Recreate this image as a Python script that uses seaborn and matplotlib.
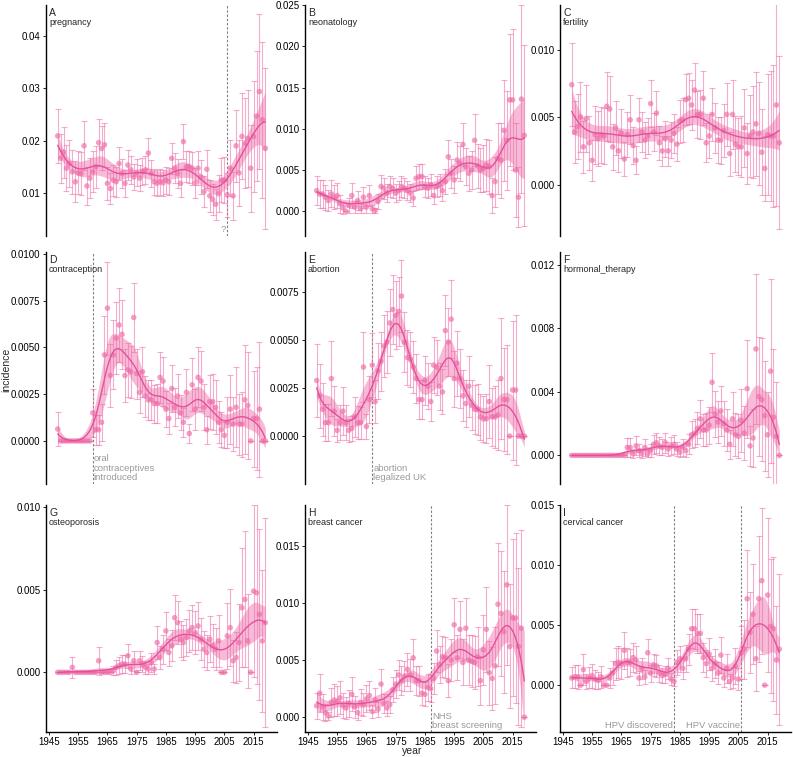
import numpy as np
import matplotlib
matplotlib.use("Agg")
import matplotlib.pyplot as plt
import matplotlib.transforms as mtransforms
import seaborn as sns

years = list(range(1948, 2020))

# number of screened articles per year (drives the 95% binomial error bars)
n_articles = [3000, 2900,
              2800, 2900, 2900, 3000, 3000, 3100, 3100, 3200, 3300, 3300,
              3400, 3500, 3700, 3900, 4100, 4400, 4800, 5200, 5600, 6000,
              6400, 6800, 7100, 7400, 7600, 7700, 7800, 7800, 7700, 7600,
              7500, 7400, 7300, 7200, 7100, 7000, 7000, 6900, 6800, 6700,
              6600, 6400, 6200, 6000, 5700, 5400, 5100, 4800, 4500, 4200,
              3900, 3600, 3300, 3000, 2700, 2400, 2100, 1900, 1700, 1500,
              1300, 1150, 1000, 900, 800, 700, 600, 500, 400, 290]

pregnancy = [.0209, .0166,
             .0178, .0147, .0156, .0140, .0121, .0138, .0137, .0190, .0113, .0128,
             .0140, .0150, .0196, .0185, .0192, .0118, .0108, .0124, .0121, .0156,
             .0137, .0118, .0153, .0144, .0130, .0138, .0128, .0140, .0144, .0176,
             .0137, .0121, .0118, .0121, .0119, .0124, .0121, .0166, .0147, .0137,
             .0118, .0198, .0150, .0150, .0147, .0119, .0147, .0130, .0102, .0145,
             .0094, .0087, .0078, .0098, .0124, .0124, .0096, .0147, .0094, .0190,
             .0138, .0208, .0195, .0204, .0147, .0208, .0247, .0294, .0240, .0185]

neonatology = [.0025, .0021,
               .0021, .0017, .0013, .0021, .0017, .0019, .0009, .0004, .0000, .0007,
               .0019, .0005, .0013, .0003, .0017, .0005, .0019, .0003, .0001, .0012,
               .0030, .0028, .0022, .0030, .0028, .0022, .0025, .0030, .0028, .0025,
               .0022, .0016, .0040, .0042, .0042, .0030, .0028, .0032, .0019, .0030,
               .0032, .0025, .0036, .0066, .0046, .0038, .0062, .0058, .0081, .0054,
               .0046, .0050, .0086, .0055, .0050, .0052, .0056, .0054, .0019, .0036,
               .0064, .0062, .0098, .0086, .0135, .0135, .0050, .0017, .0136, .0092]

fertility = [.0074, .0039,
             .0043, .0050, .0028, .0049, .0031, .0018, .0037, .0034, .0037, .0036,
             .0058, .0056, .0028, .0042, .0025, .0038, .0019, .0037, .0048, .0029,
             .0018, .0048, .0039, .0033, .0036, .0060, .0039, .0053, .0031, .0025,
             .0034, .0025, .0033, .0038, .0030, .0047, .0048, .0063, .0064, .0059,
             .0070, .0052, .0052, .0064, .0031, .0036, .0052, .0042, .0033, .0033,
             .0040, .0052, .0023, .0052, .0030, .0028, .0028, .0042, .0023, .0036,
             .0039, .0045, .0038, .0024, .0012, .0037, .0036, .0036, .0059, .0031]

contraception = [.00064, 0,
                 0, 0, 0, 0, 0, 0, 0, 0, 0, 0,
                 .0015, .0006, .0006, .0010, .0046, .0071, .0035, .0046, .0055, .0062,
                 .0057, .0035, .0038, .0037, .0066, .0036, .0026, .0037, .0024, .0022,
                 .0022, .0020, .0020, .0034, .0032, .0017, .0012, .0028, .0018, .0024,
                 .0015, .0010, .0026, .0004, .0030, .0017, .0034, .0032, .0018, .0006,
                 .0021, .0021, .0018, .0010, .0006, .0003, .0010, .0017, .0009, .0018,
                 .0009, .0009, .0022, .0019, 0, .0012, .0012, .0017, 0, 0]

abortion = [.0029, .0021,
            .0014, .0007, .0007, .0030, .0013, .0003, .0007, .0013, .0007, .0003,
            .0004, .0010, .0007, .0007, .0036, .0005, .0019, .0037, .0018, .0034,
            .0039, .0047, .0049, .0059, .0066, .0063, .0065, .0073, .0049, .0041,
            .0040, .0036, .0030, .0019, .0019, .0029, .0026, .0018, .0037, .0036,
            .0026, .0023, .0055, .0049, .0061, .0030, .0038, .0030, .0021, .0017,
            .0026, .0016, .0014, .0014, .0010, .0009, .0009, .0018, .0010, .0010,
            .0011, .0030, .0019, .0019, 0, .0024, .0024, 0, 0, 0]

hormonal_therapy = [0, 0,
                    0, 0, 0, 0, 0, 0, 0, 0, 0, 0,
                    0, 0, 0, 0, 0, 0, 0, .0005, .0005, .0001,
                    .0006, .0003, .0001, .0005, .0001, .0003, .0007, .0008, .0006, .0005,
                    .0008, .0004, .0006, .0007, .0004, .0002, .0005, .0003, .0007, .0013,
                    .0014, .0017, .0023, .0016, .0016, .0019, .0046, .0026, .0021, .0028,
                    .0020, .0016, .0007, .0023, .0013, .0012, .0022, .0014, .0042, .0006,
                    .0011, .0067, .0037, .0035, .0025, .0013, .0053, .0024, .0012, 0]

osteoporosis = [0, 0,
                0, 0, 0, .0003, 0, 0, 0, 0, 0, 0,
                0, 0, .0007, 0, 0, 0, 0, .0001, .0003, .0004,
                .0005, .0005, .0010, .0002, .0007, 0, .0007, .0005, .0003, .0002,
                .0006, .0002, .0018, .0009, .0014, .0025, .0012, .0016, .0033, .0030,
                .0020, .0018, .0021, .0025, .0027, .0024, .0028, .0020, .0014, .0012,
                .0020, .0016, .0014, .0019, 0, 0, .0022, .0027, .0007, .0009,
                .0018, .0039, .0044, .0019, 0, .0049, .0048, .0035, .0019, .0030]

breast_cancer = [.0010, .0021,
                 .0009, .0004, .0001, .0013, .0015, .0014, .0017, .0010, .0008, .0012,
                 .0020, .0009, .0004, .0013, .0011, .0016, .0019, .0005, .0015, .0007,
                 .0029, .0012, .0008, .0011, .0024, .0029, .0037, .0032, .0036, .0042,
                 .0037, .0052, .0032, .0032, .0021, .0020, .0026, .0025, .0034, .0058,
                 .0046, .0053, .0052, .0032, .0050, .0081, .0052, .0077, .0048, .0078,
                 .0050, .0049, .0048, .0053, .0032, .0059, .0077, .0039, .0034, .0045,
                 .0099, .0091, .0075, .0116, .0062, .0087, .0087, .0062, .0078, .0000]

cervical_cancer = [.0006, .0007,
                   .0007, 0, .0013, .0003, .0006, .0008, .0005, .0004, .0007, 0,
                   0, .0006, .0010, .0018, .0019, .0018, .0029, .0019, .0019, .0023,
                   .0021, .0006, .0014, .0007, .0027, .0010, .0017, .0016, .0010, .0008,
                   .0009, .0014, .0005, .0003, .0019, .0022, .0014, .0022, .0030, .0047,
                   .0047, .0043, .0043, .0023, .0018, .0026, .0014, .0018, .0010, .0025,
                   .0006, .0014, .0003, .0006, .0016, .0005, .0027, .0030, .0072, .0044,
                   .0059, .0022, .0072, .0087, 0, .0075, .0049, .0047, .0021, .0030]

# letter, title, values, y ticks, tick format, y limits, smoothing bandwidth, events
panels = [
    ("A", "pregnancy", pregnancy, [0.01, 0.02, 0.03, 0.04], "{:.2f}", (0.0017, 0.046), 3.5,
     [(2006, "?", "right")]),
    ("B", "neonatology", neonatology, [0, 0.005, 0.01, 0.015, 0.02, 0.025], "{:.3f}",
     (-0.003, 0.025), 3.0, []),
    ("C", "fertility", fertility, [0, 0.005, 0.01], "{:.3f}", (-0.0038, 0.0133), 4.8, []),
    ("D", "contraception", contraception, [0, 0.0025, 0.005, 0.0075, 0.01], "{:.4f}",
     (-0.0023, 0.0101), 2.5, [(1960, "oral\ncontraceptives\nintroduced", "left")]),
    ("E", "abortion", abortion, [0, 0.0025, 0.005, 0.0075], "{:.4f}", (-0.0025, 0.0096), 2.5,
     [(1967, "abortion\nlegalized UK", "left")]),
    ("F", "hormonal_therapy", hormonal_therapy, [0, 0.004, 0.008, 0.012], "{:.3f}",
     (-0.0018, 0.0128), 2.8, []),
    ("G", "osteoporosis", osteoporosis, [0, 0.005, 0.01], "{:.3f}", (-0.0036, 0.0101), 3.2, []),
    ("H", "breast cancer", breast_cancer, [0, 0.005, 0.01, 0.015], "{:.3f}", (-0.0013, 0.0186), 2.8,
     [(1987, "NHS\nbreast screening", "left")]),
    ("I", "cervical cancer", cervical_cancer, [0, 0.005, 0.01, 0.015], "{:.3f}",
     (-0.0039, 0.0149), 2.6, [(1983, "HPV discovered", "right"), (2006, "HPV vaccine", "right")]),
]


def local_linear(x, y, grid, bw):
    x = np.asarray(x, float)
    y = np.asarray(y, float)

    def smoother(points):
        rows = []
        for g in points:
            d = x - g
            w = np.exp(-0.5 * (d / bw) ** 2)
            s0, s1, s2 = w.sum(), (w * d).sum(), (w * d * d).sum()
            rows.append(w * (s2 - d * s1) / (s0 * s2 - s1 ** 2))
        return np.array(rows)

    S = smoother(x)
    resid = y - S @ y
    n = len(x)
    df = np.trace(S)
    L = smoother(grid)
    fit = L @ y
    se = np.sqrt((L ** 2) @ (resid ** 2) * n / (n - df))
    return fit, fit - 1.96 * se, fit + 1.96 * se


sns.set_theme(style="ticks")
plt.rcParams["font.family"] = ["Liberation Sans", "DejaVu Sans"]

pink = "#EE6AA7"
line_pink = "#E4509A"
grey_line = "#808080"
grey_text = "#9A9A9A"

W, H = 793, 757
fig = plt.figure(figsize=(W / 100, H / 100), dpi=100)
col_left = [46, 305, 560]
col_w = 231
row_top = [5, 252, 505]
row_bot = [236, 484, 732]

yrs = np.array(years, float)
n_arr = np.array(n_articles, float)
grid = np.linspace(1948, 2019, 300)

for i, (letter, title, vals, ticks, fmt, ylim, bw, events) in enumerate(panels):
    r, c = divmod(i, 3)
    ax = fig.add_axes([col_left[c] / W, 1 - row_bot[r] / H, col_w / W,
                       (row_bot[r] - row_top[r]) / H])
    p = np.array(vals, float)
    err = 1.96 * np.sqrt(p * (1 - p) / n_arr)

    ax.errorbar(yrs, p, yerr=err, fmt="none", ecolor=pink, elinewidth=0.8,
                capsize=2.3, capthick=0.8, alpha=0.55, zorder=2)
    sns.scatterplot(x=yrs, y=p, ax=ax, color=pink, s=16, alpha=0.65,
                    edgecolor="none", legend=False, zorder=3)
    fit, lo, hi = local_linear(yrs, p, grid, bw)
    ax.fill_between(grid, lo, hi, color=pink, alpha=0.45, lw=0, zorder=4)
    sns.lineplot(x=grid, y=fit, ax=ax, color=line_pink, lw=1.0,
                 errorbar=None, zorder=5)

    blend = mtransforms.blended_transform_factory(ax.transData, ax.transAxes)
    for yr, label, side in events:
        ax.axvline(yr, color=grey_line, ls=(0, (2.2, 1.6)), lw=0.8, zorder=1)
        dx = 0.35 if side == "left" else -0.35
        ax.text(yr + dx, 0.008, label, transform=blend, ha=side, va="bottom",
                fontsize=6.8, color=grey_text, linespacing=1.05)

    ax.set_xlim(1944, 2023)
    ax.set_ylim(*ylim)
    ax.set_yticks(ticks)
    ax.set_yticklabels([fmt.format(t) for t in ticks])
    ax.set_xlabel("")
    ax.set_ylabel("")
    ax.tick_params(axis="y", length=2.5, width=0.6, pad=1.5, labelsize=7,
                   colors="black")
    for side in ["top", "right"]:
        ax.spines[side].set_visible(False)
    ax.spines["left"].set_linewidth(1.0)
    ax.spines["left"].set_color("black")
    if r < 2:
        ax.spines["bottom"].set_visible(False)
        ax.tick_params(axis="x", bottom=False, labelbottom=False)
    else:
        ax.spines["bottom"].set_linewidth(1.0)
        ax.spines["bottom"].set_color("black")
        ax.set_xticks(range(1945, 2020, 10))
        ax.tick_params(axis="x", length=2.5, width=0.6, pad=1.0, labelsize=7,
                       colors="black")
    ax.patch.set_alpha(0)

    ax.text(0.013, 0.985, letter, transform=ax.transAxes, ha="left", va="top",
            fontsize=7.5)
    ax.text(0.013, 0.942, title, transform=ax.transAxes, ha="left", va="top",
            fontsize=6.5)

fig.text(6 / W, 1 - 370 / H, "incidence", rotation=90, ha="center",
         va="center", fontsize=7.5)
fig.text(412 / W, 1 - 756 / H, "year", ha="center", va="bottom", fontsize=7.5)

fig.savefig("out.png", dpi=100)
